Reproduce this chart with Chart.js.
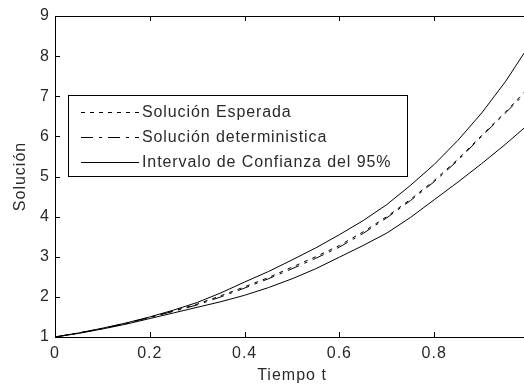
<!DOCTYPE html>
<html>
<head>
<meta charset="utf-8">
<script src="https://cdn.jsdelivr.net/npm/chart.js@4"></script>
<style>
  html, body { margin: 0; padding: 0; background: #fff; overflow: hidden; }
  #wrap { width: 532px; height: 385px; }
</style>
</head>
<body>
<div id="wrap"><canvas id="solChart" width="532" height="385"></canvas></div>
<script>
// time values (x axis)
const tiempo = [0, 0.05, 0.1, 0.15, 0.2, 0.25, 0.3, 0.35, 0.4, 0.45, 0.5, 0.55, 0.6, 0.65, 0.7, 0.75, 0.8, 0.85, 0.9, 0.95, 0.99];

// series
const esperada      = [1, 1.10, 1.21, 1.34, 1.49, 1.65, 1.82, 2.03, 2.25, 2.48, 2.74, 3.00, 3.28, 3.62, 4.00, 4.43, 4.90, 5.43, 6.02, 6.60, 7.10];
const deterministica = [1, 1.10, 1.21, 1.34, 1.49, 1.64, 1.80, 2.00, 2.22, 2.45, 2.70, 2.96, 3.24, 3.58, 3.97, 4.40, 4.87, 5.40, 6.00, 6.58, 7.05];
const icSuperior    = [1, 1.10, 1.22, 1.35, 1.50, 1.67, 1.86, 2.10, 2.37, 2.63, 2.92, 3.22, 3.55, 3.90, 4.30, 4.78, 5.30, 5.90, 6.58, 7.36, 8.08];
const icInferior    = [1, 1.09, 1.20, 1.32, 1.46, 1.60, 1.74, 1.88, 2.04, 2.23, 2.45, 2.70, 2.99, 3.28, 3.59, 3.98, 4.42, 4.86, 5.32, 5.80, 6.21];

const xTicks = [0, 0.2, 0.4, 0.6, 0.8, 1];
const yTicks = [1, 2, 3, 4, 5, 6, 7, 8, 9];

const legendLabels = ['Solución Esperada', 'Solución deterministica', 'Intervalo de Confianza del 95%'];

const FONT = "'Liberation Sans', Arial, sans-serif";
const TEXT_COLOR = '#2a2a2a';

function toPoints(ys) {
    return tiempo.map((t, i) => ({ x: t, y: ys[i] }));
}

const dashEsperada = [4, 5];
const dashDet = [12, 6, 3, 6];

// frame, inward ticks and the boxed legend (MATLAB look)
const matlabFrame = {
    id: 'matlabFrame',
    beforeLayout(chart) { chart.ctx.letterSpacing = '1px'; },
    beforeDraw(chart) { chart.ctx.letterSpacing = '1px'; },
    afterDraw(chart) {
        const ctx = chart.ctx;
        const a = chart.chartArea;
        const xs = chart.scales.x;
        const ys = chart.scales.y;
        const tl = 5;
        ctx.save();
        ctx.strokeStyle = '#000';
        ctx.lineWidth = 1;
        ctx.setLineDash([]);
        ctx.strokeRect(Math.round(a.left) + 0.5, Math.round(a.top) + 0.5,
                       Math.round(a.right - a.left), Math.round(a.bottom - a.top));
        ctx.beginPath();
        xTicks.forEach(v => {
            const px = Math.round(xs.getPixelForValue(v)) + 0.5;
            ctx.moveTo(px, a.bottom); ctx.lineTo(px, a.bottom - tl);
            ctx.moveTo(px, a.top); ctx.lineTo(px, a.top + tl);
        });
        yTicks.forEach(v => {
            const py = Math.round(ys.getPixelForValue(v)) + 0.5;
            ctx.moveTo(a.left, py); ctx.lineTo(a.left + tl, py);
            ctx.moveTo(a.right, py); ctx.lineTo(a.right - tl, py);
        });
        ctx.stroke();

        // legend box
        const bx = a.left + 13, by = a.top + 79, bw = 339, bh = 81;
        ctx.fillStyle = '#fff';
        ctx.fillRect(bx, by, bw, bh);
        ctx.strokeRect(Math.round(bx) + 0.5, Math.round(by) + 0.5, bw, bh);
        const dsets = chart.data.datasets;
        const rows = [dsets[0], dsets[1], dsets[2]];
        ctx.font = '16px ' + FONT;
        ctx.letterSpacing = '0.9px';
        ctx.textBaseline = 'middle';
        ctx.fillStyle = TEXT_COLOR;
        rows.forEach((ds, i) => {
            const ry = Math.round(by + 17 + i * 25) + 0.5;
            ctx.beginPath();
            ctx.setLineDash(ds.borderDash || []);
            ctx.moveTo(bx + 13, ry);
            ctx.lineTo(bx + 71, ry);
            ctx.stroke();
            ctx.setLineDash([]);
            ctx.fillText(legendLabels[i], bx + 74, ry);
        });
        ctx.restore();
    }
};

const ctx = document.getElementById('solChart').getContext('2d');
const solChart = new Chart(ctx, {
    type: 'line',
    data: {
        datasets: [
            { label: legendLabels[0], data: toPoints(esperada), borderColor: '#000', borderWidth: 1, borderDash: dashEsperada, pointRadius: 0, fill: false },
            { label: legendLabels[1], data: toPoints(deterministica), borderColor: '#000', borderWidth: 1, borderDash: dashDet, pointRadius: 0, fill: false },
            { label: legendLabels[2], data: toPoints(icSuperior), borderColor: '#000', borderWidth: 1, pointRadius: 0, fill: false },
            { label: legendLabels[2] + ' (inf)', data: toPoints(icInferior), borderColor: '#000', borderWidth: 1, pointRadius: 0, fill: false }
        ]
    },
    options: {
        responsive: false,
        animation: false,
        layout: { padding: { top: 16, right: 3, left: 0, bottom: 0 } },
        plugins: { legend: { display: false }, tooltip: { enabled: false } },
        scales: {
            x: {
                type: 'linear',
                min: 0, max: 1,
                afterBuildTicks: s => { s.ticks = xTicks.map(v => ({ value: v })); },
                afterFit: s => { s.height = 48; s.paddingLeft = 0; s.paddingRight = 0; },
                grid: { display: false, drawTicks: false },
                border: { display: false },
                ticks: {
                    autoSkip: false, maxRotation: 0, padding: 7,
                    color: TEXT_COLOR, font: { family: FONT, size: 16 },
                    callback: v => String(v)
                },
                title: { display: true, text: 'Tiempo t', color: TEXT_COLOR, font: { family: FONT, size: 16 }, padding: { top: 0, bottom: 0 } }
            },
            y: {
                min: 1, max: 9,
                afterBuildTicks: s => { s.ticks = yTicks.map(v => ({ value: v })); },
                afterFit: s => { s.width = 55; s.paddingTop = 0; s.paddingBottom = 0; },
                grid: { display: false, drawTicks: false },
                border: { display: false },
                ticks: {
                    autoSkip: false, padding: 5,
                    color: TEXT_COLOR, font: { family: FONT, size: 16 }
                },
                title: { display: true, text: 'Solución', color: TEXT_COLOR, font: { family: FONT, size: 16 }, padding: { top: 11, bottom: 0 } }
            }
        }
    },
    plugins: [matlabFrame]
});
</script>
</body>
</html>
